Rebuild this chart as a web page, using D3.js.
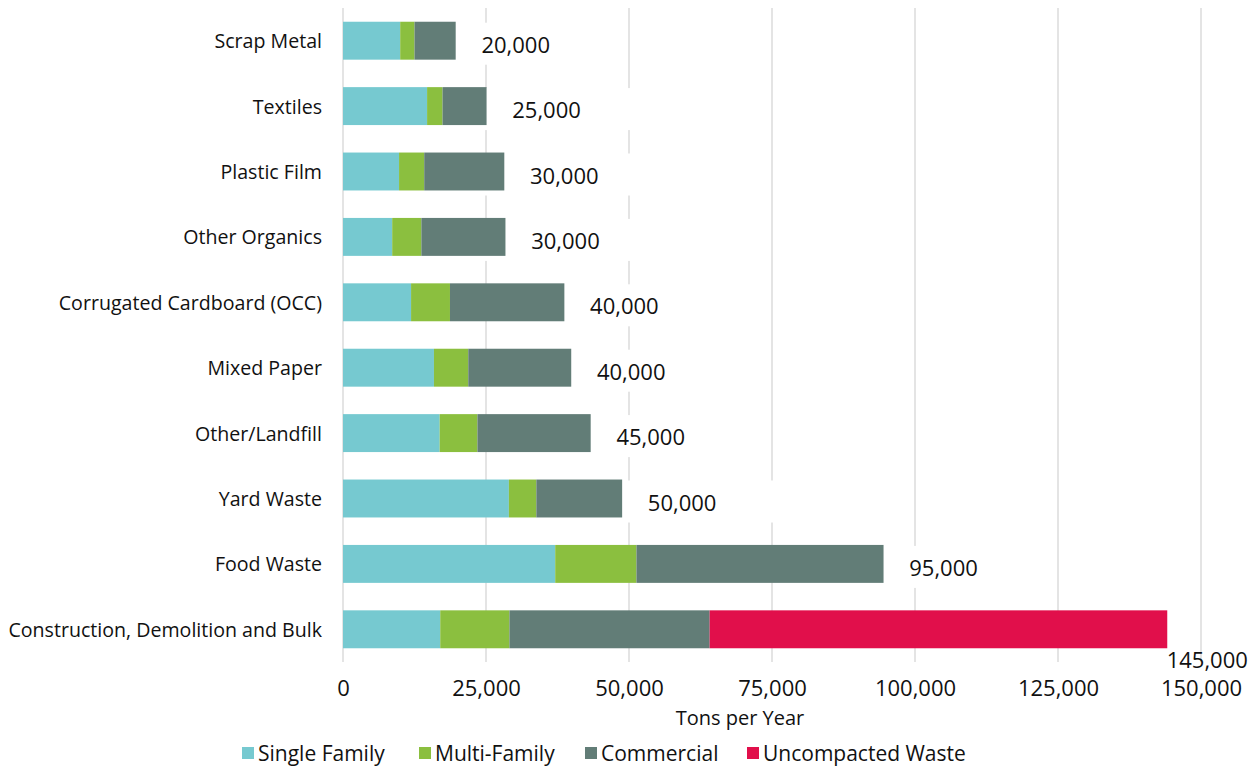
<!DOCTYPE html>
<html>
<head>
<meta charset="utf-8">
<script src="https://cdn.jsdelivr.net/npm/d3@7"></script>
<style>
  body { margin: 0; background: #fff; }
  svg text { font-family: "Open Sans", Lato, sans-serif; fill: #111; }
</style>
</head>
<body>
<svg id="chart" width="1260" height="767"></svg>
<script>
var categories = ["Scrap Metal", "Textiles", "Plastic Film", "Other Organics",
                  "Corrugated Cardboard (OCC)", "Mixed Paper ", "Other/Landfill",
                  "Yard Waste", "Food Waste", "Construction, Demolition and Bulk"];
var singleFamily = [10000, 14700, 9800, 8600, 11900, 15900, 16900, 29000, 37100, 17000];
var multiFamily  = [2500, 2700, 4400, 5100, 6800, 6000, 6600, 4800, 14200, 12100];
var commercial   = [7200, 7700, 14000, 14700, 20000, 18000, 19800, 15000, 43200, 35000];
var uncompacted  = [0, 0, 0, 0, 0, 0, 0, 0, 0, 80000];
var totalLabels  = ["20,000", "25,000", "30,000", "30,000", "40,000", "40,000",
                    "45,000", "50,000", "95,000", "145,000"];
var seriesNames  = ["Single Family", "Multi-Family", "Commercial", "Uncompacted Waste"];
var seriesColors = ["#76c9d0", "#8bbf3f", "#627d77", "#e10f4b"];
var xTicks = [0, 25000, 50000, 75000, 100000, 125000, 150000];

var svg = d3.select("#chart");
var plotLeft = 343, plotRight = 1201, plotTop = 8, plotBottom = 662;

var x = d3.scaleLinear().domain([0, 150000]).range([plotLeft, plotRight]);
var y = d3.scaleBand().domain(categories).range([plotTop, plotBottom])
    .paddingInner(0.42).paddingOuter(0.21);

// rows for stacking
var rows = categories.map(function(c, i){
    return {cat: c, sf: singleFamily[i], mf: multiFamily[i], com: commercial[i],
            un: uncompacted[i], label: totalLabels[i]};
});
var stack = d3.stack().keys(["sf", "mf", "com", "un"]);
var stacked = stack(rows);

// gridlines
svg.append("g").selectAll("line")
    .data(xTicks).enter().append("line")
    .attr("x1", function(d){ return x(d); })
    .attr("x2", function(d){ return x(d); })
    .attr("y1", plotTop).attr("y2", plotBottom)
    .attr("stroke", "#e4e4e4").attr("stroke-width", 2);

// white boxes behind the data labels (they hide the gridlines)
var labelPos = rows.map(function(r){
    var end = x(r.sf + r.mf + r.com + r.un);
    var cy = y(r.cat) + y.bandwidth()/2;
    if (end + 70 > plotRight) return {x: end + 40, y: y(r.cat) + y.bandwidth() + 11, over: true};
    return {x: end + 60, y: cy + 3, over: false};
});
svg.append("g").selectAll("rect")
    .data(labelPos.filter(function(p){ return !p.over; })).enter().append("rect")
    .attr("x", function(p){ return p.x - 105; })
    .attr("y", function(p){ return p.y - 21; })
    .attr("width", 210).attr("height", 42)
    .attr("fill", "#fff");

// bars
svg.append("g").selectAll("g")
    .data(stacked).enter().append("g")
    .attr("fill", function(d, i){ return seriesColors[i]; })
    .selectAll("rect")
    .data(function(d){ return d; }).enter().append("rect")
    .attr("x", function(d){ return x(d[0]); })
    .attr("y", function(d){ return y(d.data.cat); })
    .attr("width", function(d){ return x(d[1]) - x(d[0]); })
    .attr("height", y.bandwidth());

// data labels
svg.append("g").selectAll("text")
    .data(rows).enter().append("text")
    .attr("x", function(d, i){ return labelPos[i].x; })
    .attr("y", function(d, i){ return labelPos[i].y; })
    .attr("text-anchor", "middle")
    .attr("dominant-baseline", "central")
    .style("font-size", "22px")
    .text(function(d){ return d.label; });

// category labels
svg.append("g").selectAll("text")
    .data(categories).enter().append("text")
    .attr("x", 322)
    .attr("y", function(d){ return y(d) + y.bandwidth()/2; })
    .attr("text-anchor", "end")
    .attr("dominant-baseline", "central")
    .style("font-size", "19.6px")
    .text(function(d){ return d; });

// x axis
var xAxis = d3.axisBottom(x).tickValues(xTicks).tickSize(0).tickPadding(0)
    .tickFormat(d3.format(","));
var ax = svg.append("g").attr("transform", "translate(0," + (plotBottom + 18) + ")").call(xAxis);
ax.select(".domain").remove();
ax.selectAll("text").style("font-size", "22px").attr("dy", "0.71em")
    .style("font-family", "'Open Sans', sans-serif").style("fill", "#111");

svg.append("text")
    .attr("x", 740).attr("y", 717)
    .attr("text-anchor", "middle")
    .attr("dominant-baseline", "central")
    .style("font-size", "20px")
    .text("Tons per Year");

// legend
var legendX = [242, 419, 585, 747];
var lg = svg.append("g").selectAll("g")
    .data(seriesNames).enter().append("g")
    .attr("transform", function(d, i){ return "translate(" + legendX[i] + ",753)"; });
lg.append("rect").attr("x", 0).attr("y", -6).attr("width", 12).attr("height", 12)
    .attr("fill", function(d, i){ return seriesColors[i]; });
lg.append("text").attr("x", 16).attr("y", 0)
    .attr("dominant-baseline", "central")
    .style("font-size", "21px")
    .text(function(d){ return d; });
</script>
</body>
</html>
